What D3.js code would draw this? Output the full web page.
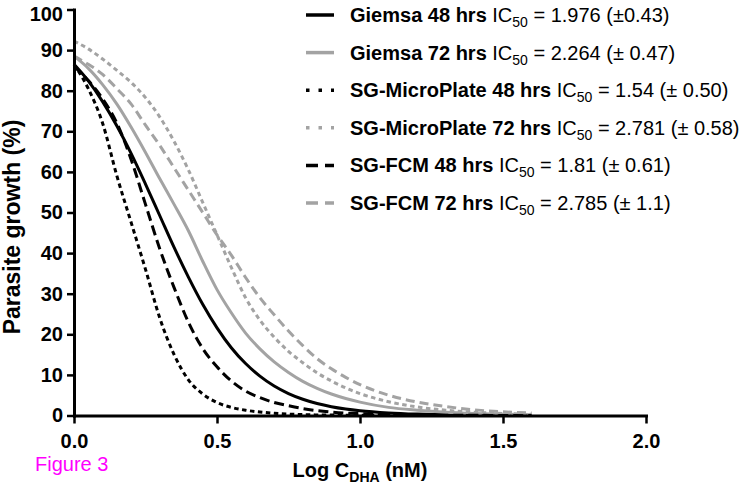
<!DOCTYPE html>
<html><head><meta charset="utf-8">
<script src="https://cdn.jsdelivr.net/npm/d3@7"></script>
<style>body{margin:0;background:#fff}</style>
</head><body><svg id="c" width="755" height="484"></svg>
<script>
// ---- data ----
const logConc = [0,0.05,0.1,0.15,0.2,0.25,0.3,0.35,0.4,0.45,0.5,0.55,0.6,0.65,0.7,0.75,0.8,0.85,0.9,0.95,1.0,1.1,1.2,1.3,1.4,1.5,1.6];
const giemsa48 = [86.5,82.4,77.3,71.3,64.5,57.0,49.2,41.4,34.1,27.4,21.6,16.7,12.8,9.7,7.25,5.4,4.0,2.95,2.17,1.6,1.17,0.63,0.34,0.18,0.1,0.05,0.03];
const giemsa72 = [88.5,85.5,81.5,76.7,71,64.8,58.3,52,45.5,38,31,25.3,20.3,16.4,13.2,10.6,8.4,6.7,5.3,4.2,3.3,2.0,1.3,0.8,0.5,0.3,0.2];
const sgMicro48 = [86.5,80.5,72,59,47.5,36,24,15,8.8,5.3,3.2,2.0,1.3,0.85,0.55,0.35,0.22,0.14,0.1,0.07,0.05,0.03,0.02,0.01,0,0,0];
const sgMicro72 = [92.2,90.3,87.8,85,82,78.3,73.5,67.5,60.5,52.5,44.5,36.5,29,23.5,19.3,15.8,13,10.5,8.5,6.8,5.4,3.4,2.1,1.3,0.8,0.5,0.3];
const sgFcm48 = [86,82.5,78,72,63,52,41,31.5,23,16.5,12,8.5,6.0,4.4,3.2,2.4,1.7,1.2,0.85,0.6,0.45,0.25,0.13,0.07,0.04,0.02,0.01];
const sgFcm72 = [88.5,86.5,84,80.5,76.7,71.5,66.5,61,55.5,50,44.5,39.5,34,29,24.8,20.8,17.2,14,11.5,9.4,7.6,5,3.3,2.2,1.4,0.9,0.6];
const seriesNames = ["Giemsa 48 hrs","Giemsa 72 hrs","SG-MicroPlate 48 hrs","SG-MicroPlate 72 hrs","SG-FCM 48 hrs","SG-FCM 72 hrs"];
const ic50Values = [" = 1.976 (±0.43)"," = 2.264 (± 0.47)"," = 1.54 (± 0.50)"," = 2.781 (± 0.58)"," = 1.81 (± 0.61)"," = 2.785 (± 1.1)"];
const xTicks = [0,0.5,1.0,1.5,2.0];
const yTicks = [0,10,20,30,40,50,60,70,80,90,100];

// ---- styles ----
const BLACK = "#000", GRAY = "#a3a3a3";
const styles = [
  {color: BLACK, dash: null, ldash: null},
  {color: GRAY, dash: null, ldash: null},
  {color: BLACK, dash: "4.5,3.5", ldash: "3.5,9"},
  {color: GRAY, dash: "4.5,3.5", ldash: "3.5,9"},
  {color: BLACK, dash: "10,5", ldash: "12,7"},
  {color: GRAY, dash: "9,5", ldash: "12,7"}
];
const seriesData = [giemsa48, giemsa72, sgMicro48, sgMicro72, sgFcm48, sgFcm72];

const FONT = "'Liberation Sans', Arial, Helvetica, sans-serif";
const svg = d3.select("#c");
svg.append("rect").attr("width",755).attr("height",484).attr("fill","#fff");

const x = d3.scaleLinear().domain([0,2]).range([74,646]);
const y = d3.scaleLinear().domain([0,100]).range([415.5,9.5]);

// curves
const line = d3.line().x(d => x(d[0])).y(d => y(d[1])).curve(d3.curveMonotoneX);
seriesData.forEach((vals, i) => {
  const pts = logConc.map((c, j) => [c, vals[j]]);
  svg.append("path")
    .attr("d", line(pts))
    .attr("fill","none")
    .attr("stroke", styles[i].color)
    .attr("stroke-width", 3)
    .attr("stroke-dasharray", styles[i].dash);
});

// axes
const yAxis = d3.axisLeft(y).tickValues(yTicks).tickFormat(d3.format("d")).tickSize(7).tickSizeOuter(0).tickPadding(4);
const gy = svg.append("g").attr("transform","translate(74,0)").call(yAxis);
const xAxis = d3.axisBottom(x).tickValues(xTicks).tickFormat(d3.format(".1f")).tickSize(8).tickSizeOuter(0).tickPadding(10);
const gx = svg.append("g").attr("transform","translate(0,415.5)").call(xAxis);
[gx, gy].forEach(g => {
  g.select(".domain").attr("stroke","#000").attr("stroke-width",3).attr("stroke-linecap","square");
  g.selectAll(".tick line").attr("stroke","#000").attr("stroke-width",2.5);
  g.selectAll(".tick text").attr("fill","#000").style("font-family",FONT).style("font-size","20px").style("font-weight","bold");
});
// top label sits a little lower, as in the reference
gy.selectAll(".tick text").filter(d => d === 100).attr("y", 5);

// axis titles
svg.append("text")
  .attr("transform","translate(20,227) rotate(-90)")
  .attr("text-anchor","middle")
  .style("font-family",FONT).style("font-size","23px").style("font-weight","bold")
  .text("Parasite growth (%)");

const xt = svg.append("text")
  .attr("x",360).attr("y",477)
  .attr("text-anchor","middle")
  .style("font-family",FONT).style("font-size","20px").style("font-weight","bold");
xt.append("tspan").text("Log C");
xt.append("tspan").attr("dy",5).style("font-size","14px").text("DHA");
xt.append("tspan").attr("dy",-5).text(" (nM)");

svg.append("text")
  .attr("x",35).attr("y",471)
  .style("font-family",FONT).style("font-size","20px").attr("fill","#ff00ff")
  .text("Figure 3");

// legend
seriesNames.forEach((name, i) => {
  const cy = 15 + i * 37.6;
  svg.append("line")
    .attr("x1",306).attr("x2",334).attr("y1",cy).attr("y2",cy)
    .attr("stroke",styles[i].color).attr("stroke-width",3.5)
    .attr("stroke-dasharray",styles[i].ldash);
  const t = svg.append("text")
    .attr("x",350).attr("y",cy + 7)
    .style("font-family",FONT).style("font-size","20px").attr("fill","#000");
  t.append("tspan").style("font-weight","bold").text(name);
  t.append("tspan").text(" IC");
  t.append("tspan").attr("dy",5).style("font-size","14px").text("50");
  t.append("tspan").attr("dy",-5).text(ic50Values[i]);
});
</script>
</body></html>
